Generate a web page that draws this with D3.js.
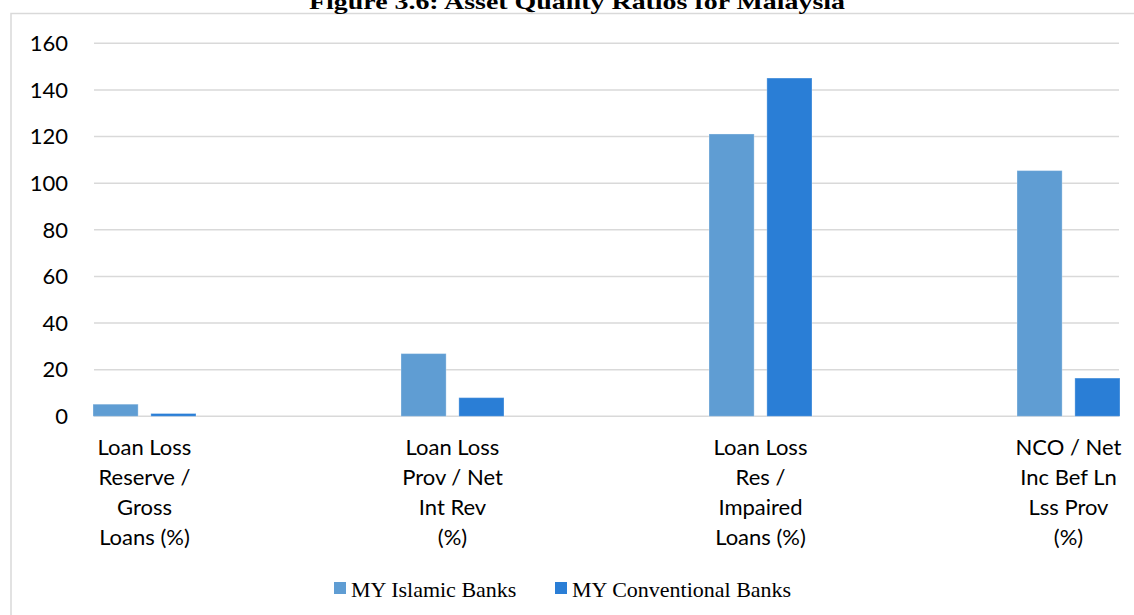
<!DOCTYPE html>
<html>
<head>
<meta charset="utf-8">
<script src="https://cdnjs.cloudflare.com/ajax/libs/d3/7.8.5/d3.min.js"></script>
<style>
  html, body { margin: 0; padding: 0; background: #fff; overflow: hidden; }
</style>
</head>
<body>
<div id="chart"></div>
<script>
// data
var categories = ["LLR_GL", "LLP_NIR", "LLR_IL", "NCO_NI"];
var categoryLabels = [
    ["Loan Loss", "Reserve /", "Gross", "Loans (%)"],
    ["Loan Loss", "Prov / Net", "Int Rev", "(%)"],
    ["Loan Loss", "Res /", "Impaired", "Loans (%)"],
    ["NCO / Net", "Inc Bef Ln", "Lss Prov", "(%)"]
];
var seriesNames = ["MY Islamic Banks", "MY Conventional Banks"];
var islamic = [5.2, 26.9, 121.1, 105.4];
var conventional = [1.2, 8.0, 145.1, 16.4];
var yTicks = [0, 20, 40, 60, 80, 100, 120, 140, 160];

var width = 1134, height = 615;
var colors = ["#5f9dd3", "#2a7ed6"];

var svg = d3.select("#chart").append("svg")
    .attr("width", width)
    .attr("height", height);

// outer chart border (runs off the right and bottom of the picture)
svg.append("rect")
    .attr("x", 11).attr("y", 13.5)
    .attr("width", 1140).attr("height", 620)
    .attr("fill", "none")
    .attr("stroke", "#d9d9d9")
    .attr("stroke-width", 1.5);

// title, partly cut by the top edge as in the figure
svg.append("text")
    .attr("x", 577).attr("y", 9)
    .attr("text-anchor", "middle")
    .attr("textLength", 536)
    .attr("lengthAdjust", "spacingAndGlyphs")
    .style("font-family", "'Liberation Serif', 'DejaVu Serif', serif")
    .style("font-weight", "bold")
    .style("font-size", "22px")
    .text("Figure 3.6: Asset Quality Ratios for Malaysia");

var y = d3.scaleLinear().domain([0, 160]).range([416.3, 43.3]);
var x0 = d3.scaleBand().domain(categories).range([93, 1120])
    .paddingInner(0.6656).paddingOuter(0);
var x1 = d3.scaleBand().domain(seriesNames).range([0, x0.bandwidth()])
    .paddingInner(0.22);

// gridlines
svg.append("g").selectAll("line")
    .data(yTicks)
    .enter().append("line")
    .attr("x1", 94).attr("x2", 1119)
    .attr("y1", function (d) { return y(d); })
    .attr("y2", function (d) { return y(d); })
    .attr("stroke", "#d9d9d9")
    .attr("stroke-width", 1.6);

// y tick labels
svg.append("g").selectAll("text")
    .data(yTicks)
    .enter().append("text")
    .attr("x", 68)
    .attr("y", function (d) { return y(d); })
    .attr("dy", "0.35em")
    .attr("text-anchor", "end")
    .style("font-family", "Lato, 'Open Sans', sans-serif")
    .style("font-size", "22px")
    .style("fill", "#000")
    .text(function (d) { return d; });

// bars
var rows = categories.map(function (c, i) {
    return { cat: c, values: [islamic[i], conventional[i]] };
});

var groups = svg.append("g").selectAll("g")
    .data(rows)
    .enter().append("g")
    .attr("transform", function (d) { return "translate(" + x0(d.cat) + ",0)"; });

groups.selectAll("rect")
    .data(function (d) {
        return d.values.map(function (v, j) { return { name: seriesNames[j], value: v, j: j }; });
    })
    .enter().append("rect")
    .attr("x", function (d) { return x1(d.name); })
    .attr("y", function (d) { return y(d.value); })
    .attr("width", x1.bandwidth())
    .attr("height", function (d) { return y(0) - y(d.value); })
    .attr("fill", function (d) { return colors[d.j]; })
    .attr("stroke", "rgba(255,255,255,0.3)")
    .attr("stroke-width", 1);

// category labels (wrapped, as in the figure)
var catText = svg.append("g").selectAll("text")
    .data(rows)
    .enter().append("text")
    .attr("x", function (d) { return x0(d.cat) + x0.bandwidth() / 2; })
    .attr("y", 455)
    .attr("text-anchor", "middle")
    .style("font-family", "Lato, 'Open Sans', sans-serif")
    .style("font-size", "22px")
    .style("fill", "#000");

catText.selectAll("tspan")
    .data(function (d, i) { return categoryLabels[i]; })
    .enter().append("tspan")
    .attr("x", function () { return d3.select(this.parentNode).attr("x"); })
    .attr("dy", function (d, i) { return i === 0 ? 0 : 30; })
    .text(function (d) { return d; });

// legend
var legendX = [334, 555];
var legend = svg.append("g").selectAll("g")
    .data(seriesNames)
    .enter().append("g")
    .attr("transform", function (d, i) { return "translate(" + legendX[i] + ",582)"; });

legend.append("rect")
    .attr("width", 12).attr("height", 12)
    .attr("fill", function (d, i) { return colors[i]; });

legend.append("text")
    .attr("x", 17).attr("y", 15)
    .style("font-family", "'Liberation Serif', 'DejaVu Serif', serif")
    .style("font-size", "22px")
    .style("fill", "#000")
    .text(function (d) { return d; });
</script>
</body>
</html>
